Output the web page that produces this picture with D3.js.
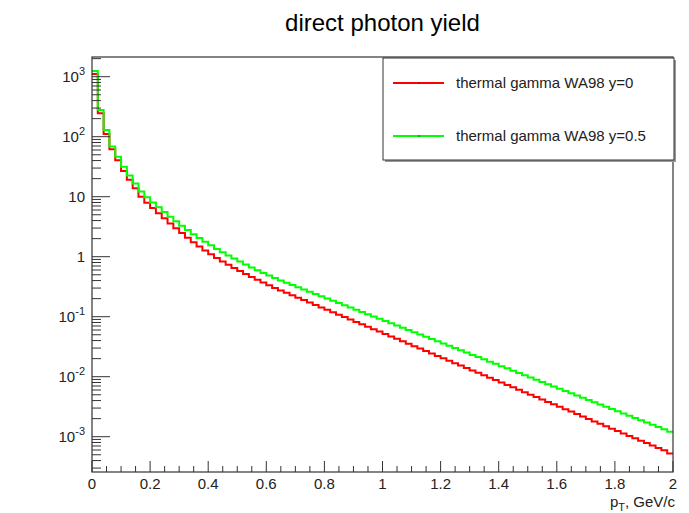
<!DOCTYPE html>
<html>
<head>
<meta charset="utf-8">
<script src="https://cdn.jsdelivr.net/npm/d3@7"></script>
<style>
  html, body { margin: 0; padding: 0; background: #fff; }
  svg { display: block; font-family: "Liberation Sans", Arial, Helvetica, sans-serif; }
</style>
</head>
<body>
<svg id="chart" width="689" height="513"></svg>
<script>
// ---- data ----
const binEdgesStart = 0;      // GeV/c
const binWidth = 0.02;        // GeV/c
const nBins = 100;
const seriesNames = ["thermal gamma WA98 y=0", "thermal gamma WA98 y=0.5"];
const seriesColors = ["#ff0000", "#00ff00"];

const yieldY0 = [
  1110, 245, 111, 61.7, 40.7, 26.9, 19.1, 13.8, 10.0, 7.94,
  6.46, 5.31, 4.37, 3.59, 2.99, 2.48, 2.07, 1.74, 1.48, 1.27,
  1.096, 0.955, 0.832, 0.733, 0.646, 0.575, 0.513, 0.457, 0.412, 0.372,
  0.335, 0.302, 0.274, 0.250, 0.2275, 0.2075, 0.189, 0.172, 0.157, 0.143,
  0.130, 0.1186, 0.108, 0.0986, 0.0897, 0.0818, 0.0745, 0.0679, 0.0619, 0.0564,
  0.0514, 0.0468, 0.0427, 0.0389, 0.0354, 0.0323, 0.0294, 0.0268, 0.0244, 0.0222,
  0.0203, 0.0185, 0.0168, 0.0153, 0.0140, 0.0127, 0.0116, 0.01057, 0.00964, 0.00877,
  0.00800, 0.00728, 0.00664, 0.00605, 0.00551, 0.00502, 0.00457, 0.00417, 0.00380, 0.00346,
  0.00316, 0.00287, 0.00262, 0.00239, 0.00217, 0.00198, 0.00180, 0.00164, 0.00150, 0.00136,
  0.00124, 0.00113, 0.00103, 0.000942, 0.000857, 0.000782, 0.000712, 0.000649, 0.000592, 0.000525
];

const yieldY05 = [
  1245, 279, 129, 68.4, 46.2, 31.6, 22.6, 16.6, 12.2, 9.77,
  8.04, 6.68, 5.56, 4.62, 3.89, 3.27, 2.79, 2.37, 2.04, 1.78,
  1.55, 1.35, 1.19, 1.047, 0.933, 0.832, 0.741, 0.661, 0.596, 0.537,
  0.486, 0.442, 0.403, 0.369, 0.339, 0.3106, 0.285, 0.261, 0.2395, 0.2197,
  0.2014, 0.1847, 0.1694, 0.1553, 0.1425, 0.1307, 0.1198, 0.1099, 0.1008, 0.0924,
  0.0848, 0.0777, 0.0713, 0.0654, 0.0600, 0.0550, 0.0504, 0.0462, 0.0424, 0.0389,
  0.0357, 0.0327, 0.0300, 0.0275, 0.0252, 0.0231, 0.0212, 0.0195, 0.0178, 0.0164,
  0.0150, 0.0138, 0.0126, 0.01157, 0.01061, 0.00973, 0.00893, 0.00818, 0.00751, 0.00689,
  0.00632, 0.00579, 0.00531, 0.00487, 0.00447, 0.00410, 0.00376, 0.00344, 0.00316, 0.00290,
  0.00266, 0.00244, 0.00223, 0.00205, 0.00188, 0.00172, 0.00158, 0.00145, 0.00133, 0.00121
];

const xTickValues = [0, 0.2, 0.4, 0.6, 0.8, 1, 1.2, 1.4, 1.6, 1.8, 2];
const xTickLabels = ["0", "0.2", "0.4", "0.6", "0.8", "1", "1.2", "1.4", "1.6", "1.8", "2"];
const yTickValues = [1000, 100, 10, 1, 0.1, 0.01, 0.001];
const yTickBase = ["10", "10", "10", "1", "10", "10", "10"];
const yTickExp = ["3", "2", "", "", "-1", "-2", "-3"];
const titleText = "direct photon yield";
const xAxisTitle = ["p", "T", ", GeV/c"];

// ---- layout ----
const svg = d3.select("#chart");
const L = 92, R = 673, T = 57, B = 472;
const x = d3.scaleLinear().domain([0, 2]).range([L, R]);
const y = d3.scaleLog().domain([2.58e-4, 2130]).range([B, T]);
const axisColor = "#333";

svg.append("rect").attr("width", 689).attr("height", 513).attr("fill", "#fff");

// title
svg.append("text").attr("x", (L + R) / 2).attr("y", 31)
  .attr("text-anchor", "middle").attr("font-size", 24).attr("fill", "#000")
  .text(titleText);

// histograms
const edges = d3.range(nBins + 1).map(i => binEdgesStart + i * binWidth);
const line = d3.line().x(d => x(d[0])).y(d => y(d[1])).curve(d3.curveStepAfter);
[yieldY0, yieldY05].forEach((vals, k) => {
  const pts = vals.map((v, i) => [edges[i], v]);
  pts.push([edges[nBins], vals[nBins - 1]]);
  svg.append("path").attr("d", line(pts)).attr("fill", "none")
    .attr("stroke", seriesColors[k]).attr("stroke-width", 2)
    .attr("stroke-linejoin", "miter");
});

// frame
svg.append("rect").attr("x", L).attr("y", T).attr("width", R - L).attr("height", B - T)
  .attr("fill", "none").attr("stroke", axisColor).attr("stroke-width", 1.2);

// x ticks (inside, upward)
const xMinor = d3.range(0, 2.0001, 0.05).map(v => +v.toFixed(2));
svg.append("g").selectAll("line").data(xMinor).join("line")
  .attr("x1", d => x(d)).attr("x2", d => x(d))
  .attr("y1", B).attr("y2", d => (Math.abs(d * 5 - Math.round(d * 5)) < 1e-6) ? B - 11 : B - 6)
  .attr("stroke", axisColor).attr("stroke-width", 1);
svg.append("g").selectAll("text").data(xTickValues).join("text")
  .attr("x", d => x(d)).attr("y", 489).attr("text-anchor", "middle")
  .attr("font-size", 15).attr("fill", "#222")
  .text((d, i) => xTickLabels[i]);

// y ticks (inside, rightward)
const yMinor = [];
for (let e = -4; e <= 3; e++) {
  for (let m = 2; m <= 9; m++) {
    const v = m * Math.pow(10, e);
    if (v >= y.domain()[0] && v <= y.domain()[1]) yMinor.push(v);
  }
}
svg.append("g").selectAll("line").data(yMinor).join("line")
  .attr("x1", L).attr("x2", L + 9).attr("y1", d => y(d)).attr("y2", d => y(d))
  .attr("stroke", axisColor).attr("stroke-width", 1);
svg.append("g").selectAll("line").data(yTickValues).join("line")
  .attr("x1", L).attr("x2", L + 18).attr("y1", d => y(d)).attr("y2", d => y(d))
  .attr("stroke", axisColor).attr("stroke-width", 1);
const yl = svg.append("g").selectAll("text").data(yTickValues).join("text")
  .attr("x", 85).attr("y", d => y(d) + 5.5).attr("text-anchor", "end")
  .attr("font-size", 15).attr("fill", "#222");
yl.append("tspan").text((d, i) => yTickBase[i]);
yl.append("tspan").attr("dy", -7).attr("font-size", 11)
  .text((d, i) => yTickExp[i]);

// x axis title
const xt = svg.append("text").attr("x", 675).attr("y", 507).attr("text-anchor", "end")
  .attr("font-size", 15).attr("fill", "#222");
xt.append("tspan").text(xAxisTitle[0]);
xt.append("tspan").attr("dy", 4).attr("font-size", 11).text(xAxisTitle[1]);
xt.append("tspan").attr("dy", -4).text(xAxisTitle[2]);

// legend
const lg = svg.append("g");
lg.append("rect").attr("x", 385).attr("y", 60).attr("width", 291).attr("height", 102).attr("fill", "#999");
lg.append("rect").attr("x", 383).attr("y", 58).attr("width", 291).attr("height", 102)
  .attr("fill", "#fff").attr("stroke", axisColor).attr("stroke-width", 1);
const legY = [83, 136];
seriesNames.forEach((name, k) => {
  lg.append("line").attr("x1", 393).attr("x2", 444).attr("y1", legY[k]).attr("y2", legY[k])
    .attr("stroke", seriesColors[k]).attr("stroke-width", 2);
  lg.append("circle").attr("cx", 419).attr("cy", legY[k]).attr("r", 0.8).attr("fill", "#333");
  lg.append("text").attr("x", 456).attr("y", legY[k] + 5).attr("font-size", 15)
    .attr("fill", "#222").text(name);
});
</script>
</body>
</html>
